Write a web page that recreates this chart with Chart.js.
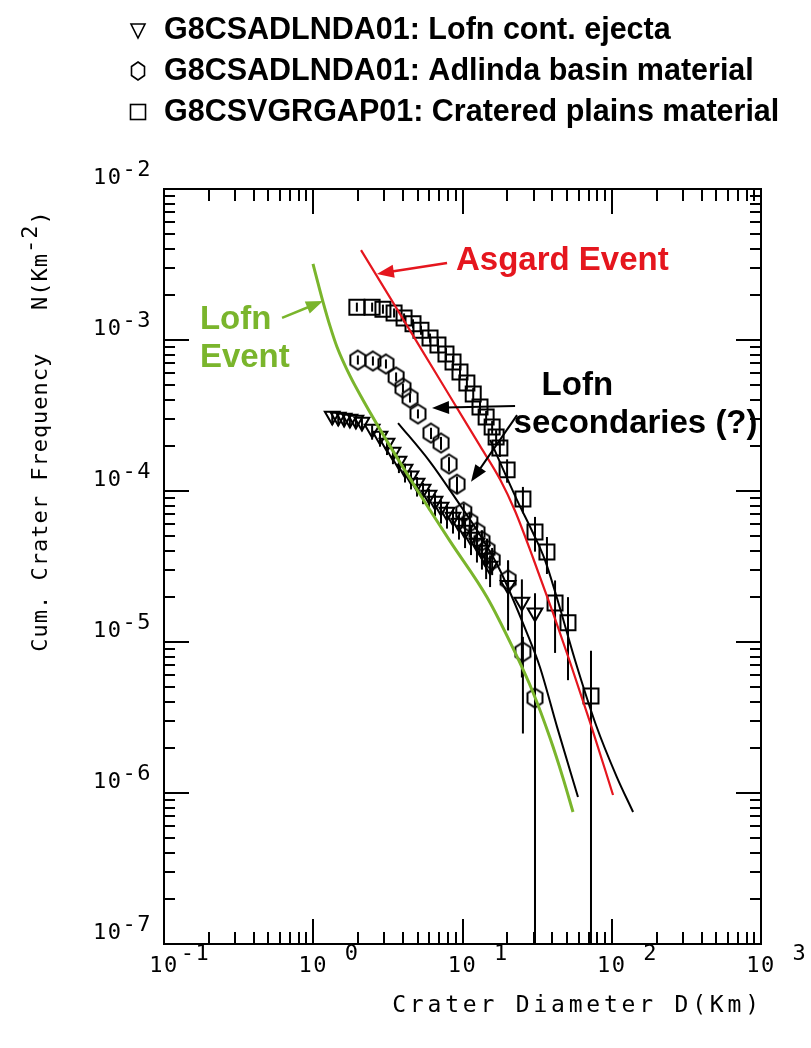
<!DOCTYPE html>
<html><head><meta charset="utf-8">
<script src="https://cdn.jsdelivr.net/npm/chart.js@4/dist/chart.umd.min.js"></script>
<style>html,body{margin:0;padding:0;background:#fff}#wrap{width:811px;height:1048px;position:relative}</style>
</head><body><div id="wrap"><canvas id="c"></canvas></div>
<script>
// ---------------- data ----------------
const xTickExponents = [-1, 0, 1, 2, 3];
const yTickExponents = [-2, -3, -4, -5, -6, -7];
const legendLabels = [
  'G8CSADLNDA01: Lofn cont. ejecta',
  'G8CSADLNDA01: Adlinda basin material',
  'G8CSVGRGAP01: Cratered plains material'
];
const xTitle = 'Crater Diameter D(Km)';
const yTitleMain = 'Cum. Crater Frequency   N(Km';
const yTitleSup = '-2';
const yTitleEnd = ')';

// Lofn continuous ejecta (triangles)
const triD = [1.34,1.47,1.61,1.76,1.93,2.12,2.48,2.80,3.12,3.42,3.75,4.12,4.52,4.96,5.44,5.96,6.54,7.18,7.87,8.64,9.47,10.4,11.4,12.5,13.5,14.4,15.3,20.2,25.0,30.6];
const triN = [3.14e-4,3.09e-4,3.04e-4,3.00e-4,2.95e-4,2.86e-4,2.57e-4,2.31e-4,2.08e-4,1.81e-4,1.58e-4,1.40e-4,1.26e-4,1.13e-4,1.03e-4,9.41e-5,8.59e-5,7.84e-5,7.26e-5,6.73e-5,6.14e-5,5.52e-5,4.96e-5,4.53e-5,4.07e-5,3.60e-5,3.19e-5,2.38e-5,1.84e-5,1.56e-5];
const triErrUp = [0.02,0.02,0.02,0.02,0.02,0.02,0.025,0.025,0.03,0.03,0.03,0.035,0.035,0.04,0.04,0.04,0.045,0.045,0.05,0.05,0.05,0.055,0.06,0.06,0.065,0.07,0.07,0.16,0.15,0.13];
const triErrDn = [0.06,0.06,0.06,0.06,0.06,0.06,0.07,0.07,0.08,0.08,0.08,0.09,0.09,0.09,0.1,0.1,0.1,0.11,0.11,0.11,0.11,0.12,0.12,0.13,0.13,0.14,0.14,0.3,0.5,null];

// Adlinda basin material (hexagons)
const hexD = [1.99,2.51,3.07,3.59,3.99,4.45,5.03,6.15,7.18,8.12,9.19,10.2,11.2,12.5,13.5,14.6,15.8,20.2,25.4,30.6];
const hexN = [7.37e-4,7.26e-4,6.94e-4,5.69e-4,4.81e-4,4.13e-4,3.24e-4,2.42e-4,2.08e-4,1.51e-4,1.11e-4,7.26e-5,6.23e-5,5.35e-5,4.67e-5,4.07e-5,3.49e-5,2.58e-5,8.59e-6,4.26e-6];
const hexErrUp = [0.03,0.03,0.03,0.03,0.03,0.03,0.03,0.035,0.04,0.045,0.05,0.055,0.06,0.065,0.07,0.075,0.08,0.13,0.1,0.2];
const hexErrDn = [0.03,0.03,0.03,0.03,0.03,0.03,0.03,0.04,0.045,0.05,0.06,0.07,0.075,0.08,0.09,0.1,0.1,0.2,0.54,null];

// Cratered plains material (squares)
const sqD = [1.96,2.48,2.93,3.48,4.06,4.66,5.27,6.06,6.85,7.75,8.64,9.62,10.7,11.8,13.1,14.4,15.8,16.8,17.8,19.9,25.4,30.6,36.8,41.7,50.9,72.6];
const sqN = [1.65e-3,1.65e-3,1.60e-3,1.51e-3,1.40e-3,1.28e-3,1.16e-3,1.03e-3,9.27e-4,8.07e-4,7.15e-4,6.14e-4,5.19e-4,4.39e-4,3.60e-4,3.09e-4,2.65e-4,2.28e-4,1.93e-4,1.38e-4,8.85e-5,5.35e-5,3.94e-5,1.81e-5,1.34e-5,4.39e-6];
const sqErrUp = [0.03,0.03,0.03,0.03,0.03,0.03,0.03,0.03,0.04,0.04,0.04,0.04,0.04,0.04,0.04,0.04,0.04,0.045,0.055,0.07,0.08,0.1,0.1,0.15,0.17,0.3];
const sqErrDn = [0.03,0.03,0.03,0.03,0.03,0.03,0.03,0.03,0.045,0.045,0.045,0.045,0.045,0.045,0.045,0.045,0.045,0.05,0.06,0.085,0.095,0.13,0.145,0.33,0.38,null];

// Asgard Event curve (red)
const asgardD = [2.09,3.81,7.07,10.1,13.1,17.8,22.5,29.7,40.4,52.5,71.5,102];
const asgardN = [3.94e-3,1.49e-3,5.43e-4,3.04e-4,1.99e-4,1.20e-4,7.37e-5,3.60e-5,1.56e-5,7.37e-6,2.95e-6,9.7e-7];
// Lofn Event curve (green)
const lofnD = [0.996,1.076,1.162,1.294,1.443,1.763,2.154,3.12,4.96,8.25,14.6,21.8,29.7,38.6,47.1,55.0];
const lofnN = [3.19e-3,2.38e-3,1.79e-3,1.24e-3,8.99e-4,5.78e-4,4.01e-4,2.14e-4,1.02e-4,4.66e-5,1.98e-5,9.10e-6,4.63e-6,2.31e-6,1.26e-6,7.48e-7];
// fit through cratered plains (black)
const fitPlainsD = [15.3,23.2,29.7,35.7,43.0,56.7,78.4,108,139];
const fitPlainsN = [2.18e-4,8.71e-5,5.27e-5,3.49e-5,1.95e-5,7.60e-6,2.82e-6,1.28e-6,7.48e-7];
// fit through Lofn secondaries (black)
const fitSecD = [3.70,6.06,9.62,13.1,17.8,27.0,33.0,43.0,59.4];
const fitSecN = [2.82e-4,1.56e-4,8.08e-5,5.11e-5,3.00e-5,1.15e-5,6.83e-6,2.74e-6,9.41e-7];

// annotations (anchored in data space)
const annotations = [
  {lines:['Asgard Event'], offsets:[0], color:'#e5161e', D:9.04, N:3.34e-3, arrowFrom:[7.88,3.24e-3], arrowTo:[2.67,2.74e-3]},
  {lines:['Lofn','Event'], offsets:[0,0], color:'#7ab52c', D:0.174, N:1.36e-3, arrowFrom:[0.618,1.40e-3], arrowTo:[1.162,1.81e-3]},
  {lines:['Lofn','secondaries (?)'], offsets:[28,0], color:'#000000', D:22.0, N:4.95e-4, arrowFrom:[22.5,3.66e-4], arrowTo:[6.25,3.55e-4], arrow2From:[23.2,3.18e-4], arrow2To:[11.4,1.15e-4]}
];

// ---------------- helpers ----------------
const toXY = (xs, ys) => xs.map((x, i) => ({x, y: ys[i]}));
function makeHex(w, h, lw) {
  const c = document.createElement('canvas');
  c.width = Math.ceil(w + 2 * lw + 2); c.height = Math.ceil(h + 2 * lw + 2);
  const g = c.getContext('2d');
  g.translate(c.width / 2, c.height / 2);
  g.beginPath();
  g.moveTo(0, -h / 2); g.lineTo(w / 2, -h / 4); g.lineTo(w / 2, h / 4);
  g.lineTo(0, h / 2); g.lineTo(-w / 2, h / 4); g.lineTo(-w / 2, -h / 4); g.closePath();
  g.lineWidth = lw; g.strokeStyle = '#000'; g.stroke();
  return c;
}
const hexImg = makeHex(15, 19, 2);

const MONO = '"DejaVu Sans Mono", "Liberation Mono", monospace';
const SANS = '"Liberation Sans", Arial, Helvetica, sans-serif';

function arrow(ctx, x1, y1, x2, y2, color, lw) {
  const ang = Math.atan2(y2 - y1, x2 - x1);
  const L = 17, W = 6.5;
  ctx.strokeStyle = color; ctx.fillStyle = color; ctx.lineWidth = lw;
  ctx.beginPath(); ctx.moveTo(x1, y1);
  ctx.lineTo(x2 - Math.cos(ang) * L * 0.8, y2 - Math.sin(ang) * L * 0.8); ctx.stroke();
  ctx.beginPath(); ctx.moveTo(x2, y2);
  ctx.lineTo(x2 - Math.cos(ang) * L + Math.sin(ang) * W, y2 - Math.sin(ang) * L - Math.cos(ang) * W);
  ctx.lineTo(x2 - Math.cos(ang) * L - Math.sin(ang) * W, y2 - Math.sin(ang) * L + Math.cos(ang) * W);
  ctx.closePath(); ctx.fill();
}

const errorSets = [
  {D: triD, N: triN, up: triErrUp, dn: triErrDn},
  {D: hexD, N: hexN, up: hexErrUp, dn: hexErrDn},
  {D: sqD, N: sqN, up: sqErrUp, dn: sqErrDn}
];

const decor = {
  id: 'decor',
  beforeDatasetsDraw(chart) {
    const ctx = chart.ctx, xs = chart.scales.x, ys = chart.scales.y, a = chart.chartArea;
    ctx.save();
    ctx.beginPath(); ctx.rect(a.left, a.top, a.right - a.left, a.bottom - a.top); ctx.clip();
    ctx.strokeStyle = '#000'; ctx.lineWidth = 2;
    errorSets.forEach(s => {
      s.D.forEach((d, i) => {
        const px = xs.getPixelForValue(d);
        const yTop = ys.getPixelForValue(s.N[i] * Math.pow(10, s.up[i]));
        const yBot = s.dn[i] === null ? a.bottom : ys.getPixelForValue(s.N[i] * Math.pow(10, -s.dn[i]));
        ctx.beginPath(); ctx.moveTo(px, yTop); ctx.lineTo(px, yBot); ctx.stroke();
      });
    });
    ctx.restore();
  },
  afterDraw(chart) {
    const ctx = chart.ctx, xs = chart.scales.x, ys = chart.scales.y, a = chart.chartArea;
    ctx.save();
    // frame
    ctx.strokeStyle = '#000'; ctx.lineWidth = 2;
    ctx.strokeRect(a.left, a.top, a.right - a.left, a.bottom - a.top);
    // ticks (inside, on all four sides)
    const xE = xTickExponents, yE = yTickExponents;
    for (let e = xE[0]; e <= xE[xE.length - 1]; e++) {
      for (let m = 1; m <= 9; m++) {
        if (e === xE[xE.length - 1] && m > 1) break;
        const px = Math.round(xs.getPixelForValue(m * Math.pow(10, e)));
        const len = m === 1 ? 25 : 12;
        ctx.beginPath(); ctx.moveTo(px, a.bottom); ctx.lineTo(px, a.bottom - len);
        ctx.moveTo(px, a.top); ctx.lineTo(px, a.top + len); ctx.stroke();
      }
    }
    const yMin = Math.min(...yE), yMax = Math.max(...yE);
    for (let e = yMin; e <= yMax; e++) {
      for (let m = 1; m <= 9; m++) {
        if (e === yMax && m > 1) break;
        const py = Math.round(ys.getPixelForValue(m * Math.pow(10, e)));
        const len = m === 1 ? 25 : 11;
        ctx.beginPath(); ctx.moveTo(a.left, py); ctx.lineTo(a.left + len, py);
        ctx.moveTo(a.right, py); ctx.lineTo(a.right - len, py); ctx.stroke();
      }
    }
    // tick labels
    ctx.fillStyle = '#000';
    ctx.font = '22px ' + MONO;
    ctx.letterSpacing = '1.5px';
    ctx.textBaseline = 'middle';
    ctx.textAlign = 'left';
    xE.forEach(e => {
      const px = xs.getPixelForValue(Math.pow(10, e));
      const w = ctx.measureText('10').width;
      ctx.fillText('10', px - w / 2, a.bottom + 22);
      const sup = e < 0 ? String(e) : ' ' + e;
      ctx.fillText(sup, px + w / 2 + 2, a.bottom + 10);
    });
    yE.forEach(e => {
      const py = ys.getPixelForValue(Math.pow(10, e));
      const sup = String(e);
      const ws = ctx.measureText(sup).width;
      const wb = ctx.measureText('10').width;
      const right = a.left - 12;
      ctx.fillText(sup, right - ws, py - 19);
      ctx.fillText('10', right - ws - wb, py - 11);
    });
    // axis titles
    ctx.font = '23px ' + MONO;
    ctx.letterSpacing = '3.8px';
    ctx.textAlign = 'center';
    ctx.fillText(xTitle, (a.left + a.right) / 2 + 115, 1006);
    ctx.save();
    ctx.font = '22px ' + MONO;
    ctx.letterSpacing = '1px';
    ctx.translate(41, 431); ctx.rotate(-Math.PI / 2);
    const w1 = ctx.measureText(yTitleMain).width, w2 = ctx.measureText(yTitleSup).width, w3 = ctx.measureText(yTitleEnd).width;
    const sx = -(w1 + w2 + w3) / 2;
    ctx.textAlign = 'left';
    ctx.fillText(yTitleMain, sx, 0);
    ctx.fillText(yTitleSup, sx + w1, -10);
    ctx.fillText(yTitleEnd, sx + w1 + w2, 0);
    ctx.restore();
    ctx.letterSpacing = '0px';

    // annotations
    ctx.font = 'bold 33px ' + SANS;
    ctx.textAlign = 'left'; ctx.textBaseline = 'middle';
    annotations.forEach(an => {
      const x = xs.getPixelForValue(an.D), y = ys.getPixelForValue(an.N);
      ctx.fillStyle = an.color;
      an.lines.forEach((t, i) => ctx.fillText(t, x + an.offsets[i], y + i * 38));
      const lw = an.color === '#000000' ? 2 : 2.5;
      arrow(ctx, xs.getPixelForValue(an.arrowFrom[0]), ys.getPixelForValue(an.arrowFrom[1]),
            xs.getPixelForValue(an.arrowTo[0]), ys.getPixelForValue(an.arrowTo[1]), an.color, lw);
      if (an.arrow2From) arrow(ctx, xs.getPixelForValue(an.arrow2From[0]), ys.getPixelForValue(an.arrow2From[1]),
            xs.getPixelForValue(an.arrow2To[0]), ys.getPixelForValue(an.arrow2To[1]), an.color, lw);
    });

    // legend
    ctx.fillStyle = '#000'; ctx.strokeStyle = '#000'; ctx.lineWidth = 1.6;
    ctx.font = 'bold 30.5px ' + SANS;
    const lx = 138, ly = [30, 71, 112];
    legendLabels.forEach((t, i) => ctx.fillText(t, 164, ly[i] + 1));
    ctx.beginPath();
    ctx.moveTo(lx - 7, ly[0] - 6); ctx.lineTo(lx + 7, ly[0] - 6); ctx.lineTo(lx, ly[0] + 8); ctx.closePath(); ctx.stroke();
    ctx.beginPath();
    const hw = 6.5, hh = 9, hy = ly[1];
    ctx.moveTo(lx, hy - hh); ctx.lineTo(lx + hw, hy - hh / 2); ctx.lineTo(lx + hw, hy + hh / 2);
    ctx.lineTo(lx, hy + hh); ctx.lineTo(lx - hw, hy + hh / 2); ctx.lineTo(lx - hw, hy - hh / 2); ctx.closePath(); ctx.stroke();
    ctx.strokeRect(lx - 7.5, ly[2] - 7.5, 15, 15);
    ctx.restore();
  }
};

const lineDs = (label, D, N, color, width) => ({
  label, data: toXY(D, N), borderColor: color, borderWidth: width, pointRadius: 0,
  showLine: true, fill: false, cubicInterpolationMode: 'monotone'
});
const markDs = (label, D, N, style, radius, rotation) => ({
  label, data: toXY(D, N), showLine: false, pointStyle: style, pointRadius: radius,
  pointRotation: rotation || 0, pointBorderColor: '#000', pointBackgroundColor: 'rgba(0,0,0,0)',
  pointBorderWidth: 2, borderColor: '#000', backgroundColor: 'rgba(0,0,0,0)'
});

new Chart(document.getElementById('c'), {
  type: 'line',
  data: {
    datasets: [
      lineDs('Asgard Event', asgardD, asgardN, '#e5161e', 2.2),
      lineDs('Lofn Event', lofnD, lofnN, '#7ab52c', 3),
      lineDs('fit plains', fitPlainsD, fitPlainsN, '#000', 2),
      lineDs('fit secondaries', fitSecD, fitSecN, '#000', 2),
      markDs(legendLabels[0], triD, triN, 'triangle', 8.5, 180),
      markDs(legendLabels[1], hexD, hexN, hexImg, 9),
      markDs(legendLabels[2], sqD, sqN, 'rect', 10.6)
    ]
  },
  options: {
    responsive: true, maintainAspectRatio: false, animation: false,
    layout: {padding: {left: 164, right: 50, top: 189, bottom: 104}},
    scales: {
      x: {type: 'logarithmic', min: 0.1, max: 1000, display: false},
      y: {type: 'logarithmic', min: 1e-7, max: 1e-2, display: false}
    },
    plugins: {legend: {display: false}, tooltip: {enabled: false}}
  },
  plugins: [decor]
});
</script>
</body></html>
